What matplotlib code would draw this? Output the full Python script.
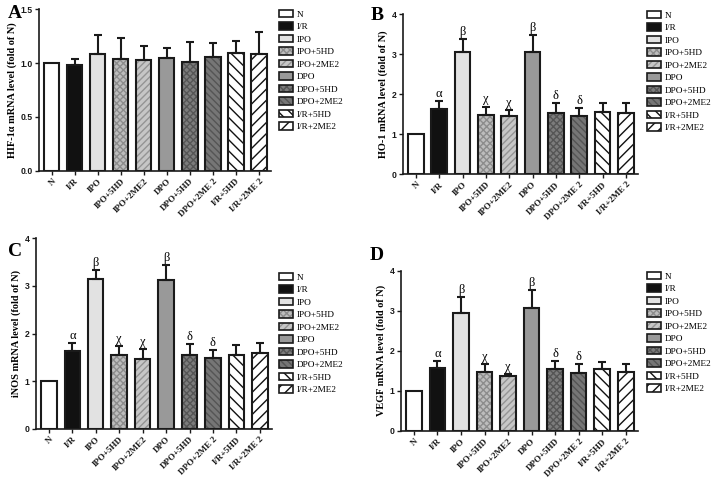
import numpy as np
import matplotlib
matplotlib.use("Agg")
import matplotlib.pyplot as plt
from matplotlib.patches import Patch
from matplotlib.legend_handler import HandlerTuple

# ---- data (fold of N, mean and upward SD) ----
groups = ["N", "I/R", "IPO", "IPO+5HD", "IPO+2ME2", "DPO",
          "DPO+5HD", "DPO+2ME2", "I/R+5HD", "I/R+2ME2"]
tick_labels = ["N", "I/R", "IPO", "IPO+5HD", "IPO+2ME2", "DPO",
               "DPO+5HD", "DPO+2ME 2", "I/R+5HD", "I/R+2ME 2"]

hif_mean = [1.00, 0.98, 1.08, 1.04, 1.03, 1.05, 1.01, 1.06, 1.09, 1.08]
hif_err = [0.00, 0.06, 0.18, 0.19, 0.13, 0.09, 0.19, 0.13, 0.12, 0.21]

ho1_mean = [1.00, 1.64, 3.06, 1.47, 1.45, 3.04, 1.54, 1.46, 1.56, 1.54]
ho1_err = [0.00, 0.18, 0.31, 0.22, 0.16, 0.43, 0.24, 0.20, 0.21, 0.23]

inos_mean = [1.00, 1.63, 3.14, 1.54, 1.47, 3.11, 1.54, 1.48, 1.54, 1.60]
inos_err = [0.00, 0.17, 0.19, 0.19, 0.21, 0.32, 0.24, 0.18, 0.21, 0.20]

vegf_mean = [1.00, 1.56, 2.95, 1.46, 1.37, 3.06, 1.54, 1.44, 1.55, 1.48]
vegf_err = [0.00, 0.18, 0.40, 0.20, 0.06, 0.46, 0.20, 0.22, 0.17, 0.20]

sig_marks = ["", "α", "β", "χ", "χ", "β", "δ", "δ", "", ""]
no_marks = [""] * 10

# ---- styles ----
FACE = ["white", "#111111", "#e2e2e2", "#bdbdbd", "#c6c6c6", "#999999",
        "#7c7c7c", "#767676", "white", "white"]
HATCH = ["", "", "", "xxxxx", "/////", "", "xxxxx", "\\\\\\\\\\", "\\\\\\", "///"]
HATCH_COLOR = ["none", "none", "none", "#8c8c8c", "#949494", "none",
               "#555555", "#555555", "#111111", "#111111"]
EDGE = "#1a1a1a"
WIDTH = 0.66
SERIF = "Liberation Serif"
SANS = "Liberation Sans"

plt.rcParams["hatch.linewidth"] = 1.0
plt.rcParams["font.family"] = SERIF

W, H = 716, 479
fig = plt.figure(figsize=(W / 100, H / 100), dpi=100)


def px_axes(left, right, top, bottom):
    return fig.add_axes([left / W, 1 - bottom / H, (right - left) / W, (bottom - top) / H])


def draw_panel(ax, means, errs, ylabel, ymax, yticks, yticklabels, marks):
    x = np.arange(len(groups))
    for i in range(len(groups)):
        ax.bar(x[i], means[i], WIDTH, color=FACE[i], hatch=HATCH[i],
               edgecolor=HATCH_COLOR[i], linewidth=0, zorder=2)
    ax.bar(x, means, WIDTH, fill=False, edgecolor=EDGE, linewidth=1.5, zorder=3)
    ax.errorbar(x[1:], means[1:], yerr=[np.zeros(len(x) - 1), errs[1:]], fmt="none",
                ecolor=EDGE, elinewidth=1.5, capsize=3, capthick=1.5, zorder=4)
    for i, m in enumerate(marks):
        if m:
            ax.annotate(m, (x[i], means[i] + errs[i]), xytext=(0, 3),
                        textcoords="offset points", ha="center", va="baseline",
                        fontsize=9, family=SERIF)
    ax.set_xlim(-0.55, 9.52)
    ax.set_ylim(0, ymax)
    ax.set_xticks(x)
    ax.set_xticklabels(tick_labels, rotation=45, ha="right", rotation_mode="anchor",
                       fontsize=6.5, fontweight="bold", family=SERIF)
    ax.set_yticks(yticks)
    ax.set_yticklabels(yticklabels, fontsize=6.2, fontweight="bold", family=SANS)
    ax.set_ylabel(ylabel, fontsize=7.4, fontweight="bold", family=SERIF, labelpad=2.5)
    for s in ("top", "right"):
        ax.spines[s].set_visible(False)
    for s in ("left", "bottom"):
        ax.spines[s].set_linewidth(1.2)
        ax.spines[s].set_color(EDGE)
    ax.tick_params(direction="out", length=3, width=1.0, pad=1.5, colors=EDGE)


def draw_legend(ax, x_px, y_px):
    handles = []
    for i in range(len(groups)):
        h1 = Patch(facecolor=FACE[i], hatch=HATCH[i], edgecolor=HATCH_COLOR[i], linewidth=0)
        h2 = Patch(fill=False, edgecolor=EDGE, linewidth=1.2)
        handles.append((h1, h2))
    ax.legend(handles, groups, handler_map={tuple: HandlerTuple(ndivide=1)},
              loc="upper left", bbox_to_anchor=(x_px / W, 1 - y_px / H),
              bbox_transform=fig.transFigure, frameon=False, borderpad=0,
              borderaxespad=0, handlelength=1.5, handleheight=0.85,
              handletextpad=0.45, labelspacing=0.38,
              prop={"family": SERIF, "size": 6.7})


axA = px_axes(39, 271, 9.3, 170.7)
draw_panel(axA, hif_mean, hif_err, "HIF-1α mRNA level (fold of N)", 1.5,
           [0, 0.5, 1.0, 1.5], ["0.0", "0.5", "1.0", "1.5"], no_marks)
draw_legend(axA, 279, 10)

axB = px_axes(403, 638, 14, 174.3)
draw_panel(axB, ho1_mean, ho1_err, "HO-1 mRNA level (fold of N)", 4,
           [0, 1, 2, 3, 4], ["0", "1", "2", "3", "4"], sig_marks)
draw_legend(axB, 647, 11)

axC = px_axes(36, 272, 238, 429)
draw_panel(axC, inos_mean, inos_err, "iNOS mRNA level (fold of N)", 4,
           [0, 1, 2, 3, 4], ["0", "1", "2", "3", "4"], sig_marks)
draw_legend(axC, 279, 273)

axD = px_axes(401, 638, 270.7, 431)
draw_panel(axD, vegf_mean, vegf_err, "VEGF mRNA level (fold of N)", 4,
           [0, 1, 2, 3, 4], ["0", "1", "2", "3", "4"], sig_marks)
draw_legend(axD, 647, 272)

for letter, xp, yp in [("A", 15, 14), ("B", 377, 15), ("C", 15, 251), ("D", 377, 256)]:
    fig.text(xp / W, 1 - yp / H, letter, fontsize=14, fontweight="bold",
             family=SERIF, ha="center", va="center")

fig.savefig("out.png", dpi=100)
